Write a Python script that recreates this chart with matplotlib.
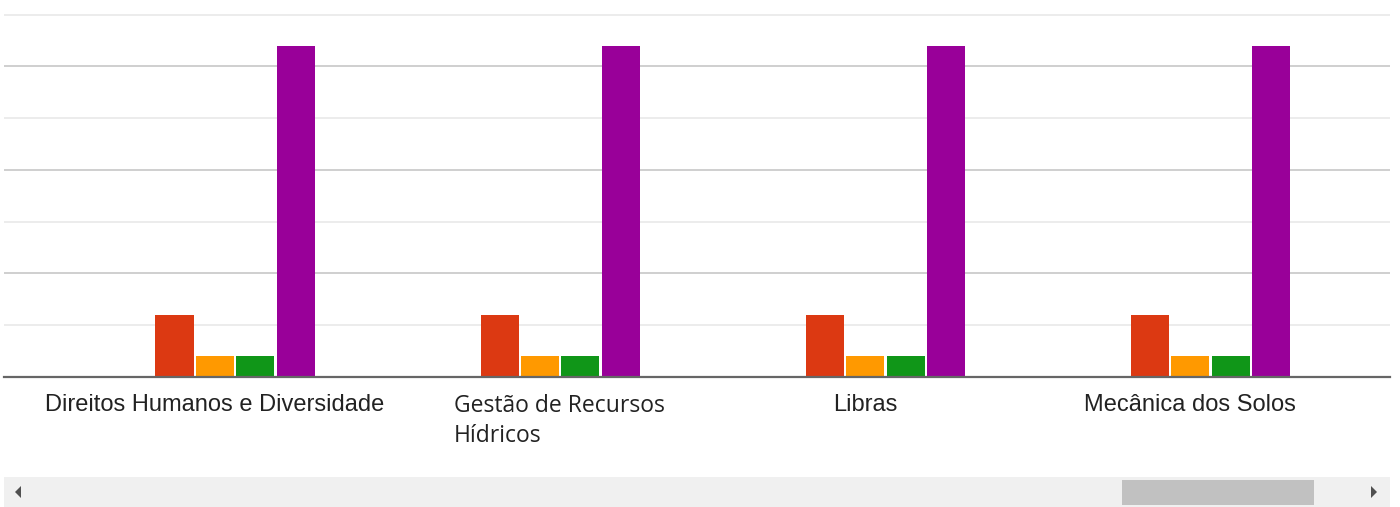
import numpy as np
import matplotlib
matplotlib.use("Agg")
import matplotlib.pyplot as plt
import matplotlib.transforms as mtransforms
from matplotlib.patches import Rectangle, Polygon

# dados
categorias = ["Direitos Humanos e Diversidade", "Gestão de Recursos\nHídricos",
              "Libras", "Mecânica dos Solos"]
series = ["azul", "vermelho", "laranja", "verde", "roxo"]
valores = [
    [0, 0, 0, 0],      # azul
    [3, 3, 3, 3],      # vermelho
    [1, 1, 1, 1],      # laranja
    [1, 1, 1, 1],      # verde
    [16, 16, 16, 16],  # roxo
]
cores = ["#3366cc", "#dc3912", "#ff9900", "#109618", "#990099"]

W, H = 1400, 507
fig = plt.figure(figsize=(W / 100, H / 100), dpi=100)
ax = fig.add_axes([4 / W, (H - 377) / H, 1386 / W, (377 - 13) / H])

x = np.arange(len(categorias))
n = len(series)
step = 0.1245
largura = 0.117
for i in range(n):
    ax.bar(x + (i - (n - 1) / 2) * step, valores[i], width=largura,
           color=cores[i], zorder=3, linewidth=0)

ax.set_xlim(-0.649, 3.615)
ax.set_ylim(0, 17.58)
ax.set_yticks([0, 5, 10, 15])
ax.set_yticks([2.5, 7.5, 12.5, 17.5], minor=True)
ax.grid(axis="y", which="major", color="#cccccc", linewidth=1.3, zorder=0)
ax.grid(axis="y", which="minor", color="#ebebeb", linewidth=1.3, zorder=0)
ax.tick_params(axis="y", which="both", left=False, labelleft=False)
for s in ["top", "right", "left"]:
    ax.spines[s].set_visible(False)
ax.spines["bottom"].set_color("#666666")
ax.spines["bottom"].set_linewidth(1.6)
ax.spines["bottom"].set_zorder(4)

ax.set_xticks(x)
ax.set_xticklabels(categorias, fontsize=17, color="#222222")
ax.tick_params(axis="x", length=0, pad=12.5)
for i, lab in enumerate(ax.get_xticklabels()):
    if i == 1:
        lab.set_family(["Open Sans", "DejaVu Sans"])
        lab.set_fontsize(16.5)
        lab.set_ha("left")
        lab.set_linespacing(1.3)
        lab.set_transform(lab.get_transform() + mtransforms.ScaledTranslation(-86 / 100, 0, fig.dpi_scale_trans))
    else:
        lab.set_family(["Liberation Sans", "DejaVu Sans"])

# barra de rolagem
fig.add_artist(Rectangle((4 / W, 0), 1386 / W, 30 / H, transform=fig.transFigure,
                         facecolor="#f0f0f0", edgecolor="none"))
fig.add_artist(Rectangle((1122 / W, 2 / H), 192 / W, 25 / H, transform=fig.transFigure,
                         facecolor="#c1c1c1", edgecolor="none"))
fig.add_artist(Polygon([[15 / W, 15 / H], [21 / W, 21 / H], [21 / W, 9 / H]],
                       transform=fig.transFigure, facecolor="#505050", edgecolor="none"))
fig.add_artist(Polygon([[1377 / W, 15 / H], [1371 / W, 21 / H], [1371 / W, 9 / H]],
                       transform=fig.transFigure, facecolor="#505050", edgecolor="none"))

fig.savefig("out.png", dpi=100)
